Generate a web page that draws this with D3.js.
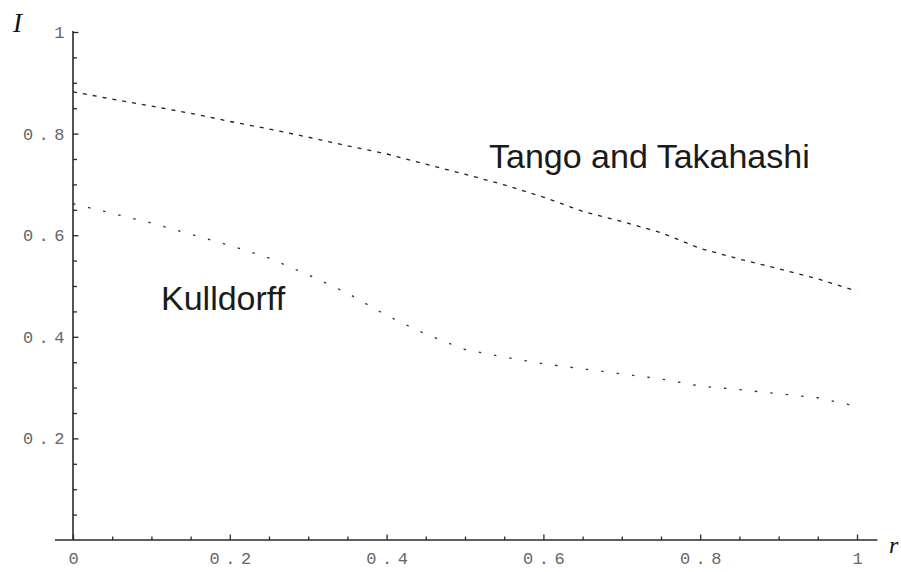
<!DOCTYPE html>
<html>
<head>
<meta charset="utf-8">
<script src="https://cdn.jsdelivr.net/npm/d3@7"></script>
<style>
  html, body { margin: 0; padding: 0; background: #fff; }
  svg { display: block; }
</style>
</head>
<body>
<script>
// ---- data ----
const rValues = [0, 0.05, 0.1, 0.15, 0.2, 0.25, 0.3, 0.35, 0.4, 0.45, 0.5,
                 0.55, 0.6, 0.65, 0.7, 0.75, 0.8, 0.85, 0.9, 0.95, 1.0];
const tangoTakahashi = [0.882, 0.868, 0.854, 0.840, 0.824, 0.809, 0.793, 0.776, 0.760, 0.740, 0.720,
                        0.699, 0.675, 0.647, 0.627, 0.605, 0.574, 0.553, 0.534, 0.514, 0.490];
const kulldorff = [0.662, 0.643, 0.624, 0.602, 0.580, 0.555, 0.522, 0.486, 0.442, 0.405, 0.375,
                   0.360, 0.347, 0.337, 0.327, 0.317, 0.303, 0.296, 0.288, 0.280, 0.263];
const xMajorTicks = [0, 0.2, 0.4, 0.6, 0.8, 1];
const yMajorTicks = [0.2, 0.4, 0.6, 0.8, 1];
const minorTicks = [0.05, 0.1, 0.15, 0.25, 0.3, 0.35, 0.45, 0.5, 0.55, 0.65, 0.7, 0.75, 0.85, 0.9, 0.95];
const seriesLabels = ["Tango and Takahashi", "Kulldorff"];
const axisLabels = { x: "r", y: "I" };

// ---- layout ----
const W = 901, H = 572;
const svg = d3.select("body").append("svg").attr("width", W).attr("height", H);

const x = d3.scaleLinear().domain([0, 1]).range([73, 857]);
const y = d3.scaleLinear().domain([0, 1]).range([540, 32]);

const axisColor = "#2a2a2a";
const labelFont = "'Liberation Mono', 'DejaVu Sans Mono', monospace";

// axis lines (extend beyond data range like the original)
svg.append("line").attr("x1", x(-0.023)).attr("x2", x(1.026))
  .attr("y1", y(0)).attr("y2", y(0))
  .attr("stroke", axisColor).attr("stroke-width", 1.6);
svg.append("line").attr("x1", x(0)).attr("x2", x(0))
  .attr("y1", y(0)).attr("y2", y(1.002))
  .attr("stroke", axisColor).attr("stroke-width", 1.6);

// x axis
const gx = svg.append("g").attr("transform", `translate(0,${y(0)})`);
gx.call(d3.axisBottom(x).tickValues(minorTicks).tickSize(-3.5).tickFormat(""));
gx.append("g").call(d3.axisBottom(x).tickValues(xMajorTicks).tickSize(-5.5).tickPadding(12)
  .tickFormat(d => d3.format("~g")(d)));
const gy = svg.append("g").attr("transform", `translate(${x(0)},0)`);
gy.call(d3.axisLeft(y).tickValues(minorTicks).tickSize(-4).tickFormat(""));
gy.append("g").call(d3.axisLeft(y).tickValues(yMajorTicks).tickSize(-5.5).tickPadding(3)
  .tickFormat(d => d3.format("~g")(d)));

svg.selectAll(".domain").remove();
svg.selectAll(".tick line").attr("stroke", axisColor).attr("stroke-width", 1.3);
svg.selectAll(".tick text")
  .attr("font-family", labelFont)
  .attr("font-size", 17)
  .attr("letter-spacing", "5.5px")
  .attr("fill", "#666");
gx.selectAll(".tick text").attr("dx", "2.75px");

// axis titles
svg.append("text").attr("x", 13).attr("y", 32)
  .attr("font-family", "'Liberation Serif', 'DejaVu Serif', serif")
  .attr("font-style", "italic").attr("font-size", 27).attr("fill", "#111")
  .text(axisLabels.y);
svg.append("text").attr("x", 889).attr("y", 553)
  .attr("font-family", "'Liberation Serif', 'DejaVu Serif', serif")
  .attr("font-style", "italic").attr("font-size", 24).attr("fill", "#111")
  .text(axisLabels.x);

// lines
const line = vals => d3.line().x((d, i) => x(rValues[i])).y(d => y(d))(vals);

svg.append("path").attr("d", line(tangoTakahashi))
  .attr("fill", "none").attr("stroke", "#222").attr("stroke-width", 1.3)
  .attr("stroke-dasharray", "4,6");
svg.append("path").attr("d", line(kulldorff))
  .attr("fill", "none").attr("stroke", "#333").attr("stroke-width", 1.3)
  .attr("stroke-dasharray", "2.5,13");

// annotations
svg.append("text").attr("x", 489).attr("y", 168)
  .attr("font-family", "'Liberation Sans', Arial, sans-serif")
  .attr("font-size", 34).attr("fill", "#1a1a1a")
  .text(seriesLabels[0]);
svg.append("text").attr("x", 161).attr("y", 310)
  .attr("font-family", "'Liberation Sans', Arial, sans-serif")
  .attr("font-size", 34).attr("fill", "#1a1a1a")
  .text(seriesLabels[1]);
</script>
</body>
</html>
